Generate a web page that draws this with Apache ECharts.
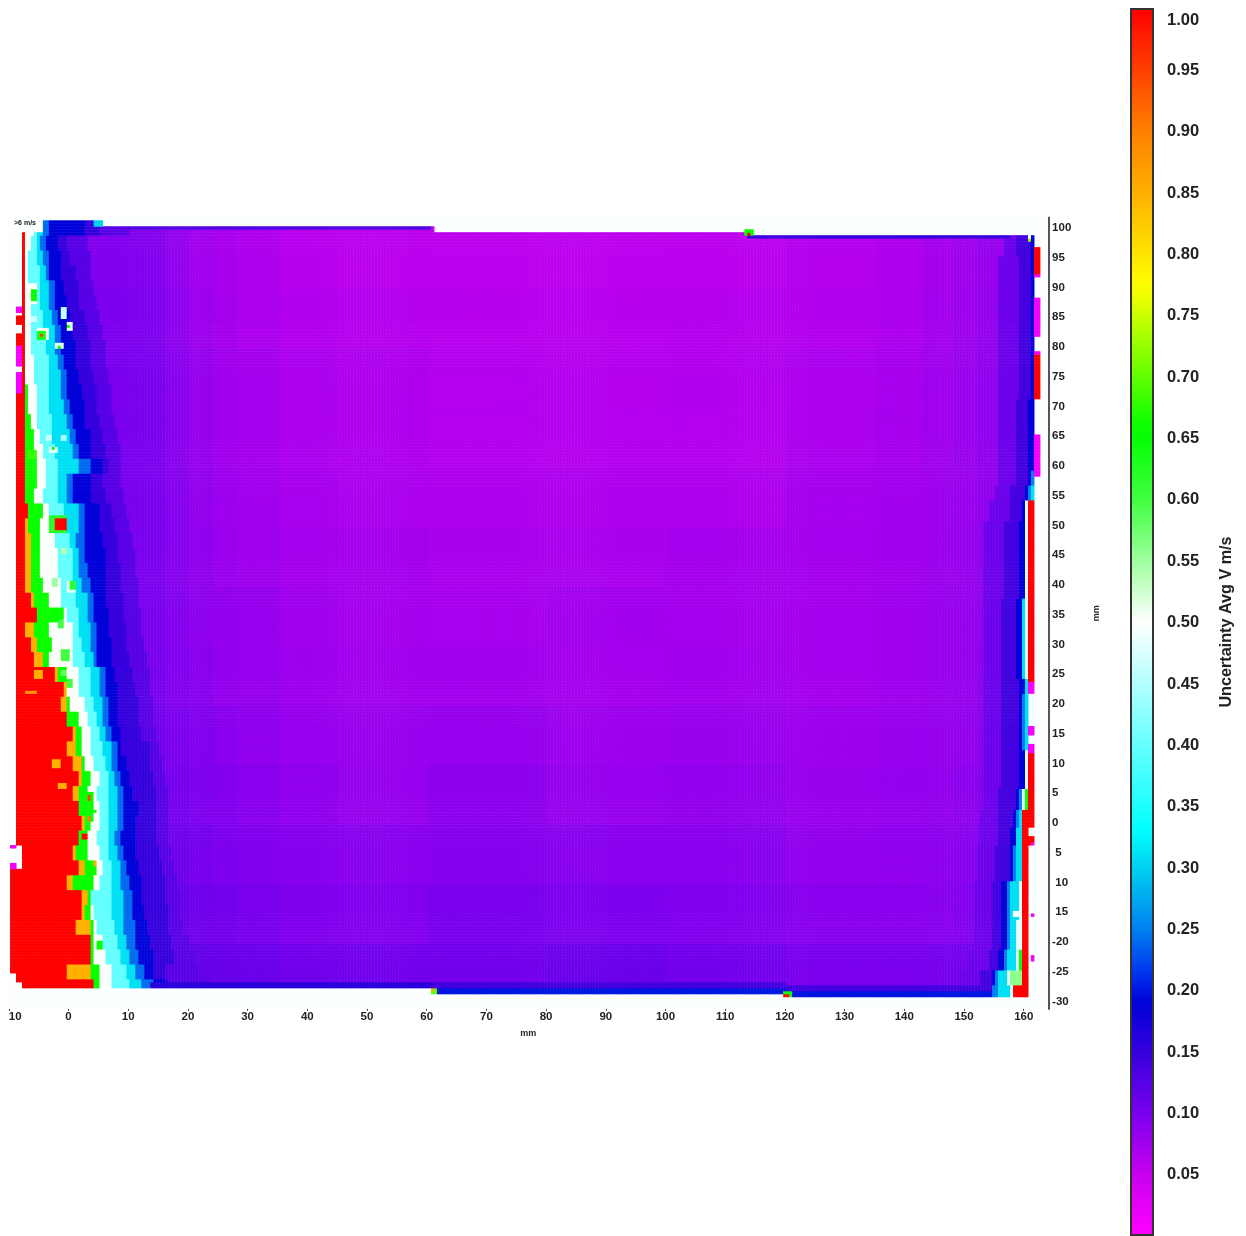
<!DOCTYPE html>
<html><head><meta charset="utf-8">
<style>html,body{margin:0;padding:0;background:#fff}#c{width:1246px;height:1236px}</style>
<script src="https://cdn.jsdelivr.net/npm/echarts@6/dist/echarts.min.js"></script>
</head><body><div id="c"></div>
<script>
// --- axis tick labels (as they read in the picture)
const xTicks = [-10,0,10,20,30,40,50,60,70,80,90,100,110,120,130,140,150,160];
const xTickLabels = ['10','0','10','20','30','40','50','60','70','80','90','100','110','120','130','140','150','160'];
const yTicks = [100,95,90,85,80,75,70,65,60,55,50,45,40,35,30,25,20,15,10,5,0,-5,-10,-15,-20,-25,-30];
const yTickLabels = ['100','95','90','85','80','75','70','65','60','55','50','45','40','35','30','25','20','15','10','5','0','\u00a05','\u00a010','\u00a015','-20','-25','-30'];
const barTicks = [0.05,0.10,0.15,0.20,0.25,0.30,0.35,0.40,0.45,0.50,0.55,0.60,0.65,0.70,0.75,0.80,0.85,0.90,0.95,1.00];
// --- colour scale
const stopValues = [0.001,0.05,0.10,0.15,0.19,0.22,0.25,0.30,0.33,0.40,0.50,0.60,0.655,0.775,0.85,0.90,0.95,1.00];
const stopColors = ['#ff00ff','#c800ee','#7a00ee','#3500dd','#0000d8','#0040f0','#0080f0','#00d0f0','#00ffff','#66ffff','#ffffff','#40ff40','#00ff00','#ffff00','#ffb000','#ff8000','#ff4000','#ff0000'];
// --- left edge: value of each band, and per row (y mm) the x (mm) where each band ends
const leftLevels = [1.0,0.85,0.66,0.5,0.4,0.31,0.24,0.19,0.15,0.125];
const rowY = [100,97.5,95,92.5,90,87.5,85,82.5,80,77.5,75,72.5,70,67.5,65,62.5,60,57.5,55,52.5,50,47.5,45,42.5,40,37.5,35,32.5,30,27.5,25,22.5,20,17.5,15,12.5,10,7.5,5,2.5,0,-2.5,-5,-7.5,-10,-12.5,-15,-17.5,-20,-22.5,-25,-27.5,-30];
const leftEnds = [
[-7,-7,-7,-5.9,-5.1,-4.3,-3.4,2.8,5.3,10.3],
[-7,-7,-7,-6.3,-5.3,-4.6,-3.9,-1.9,-0.3,3.1],
[-7,-7,-7,-6.6,-5.1,-4.3,-3.4,-1.4,0.3,3.6],
[-7,-7,-7,-6.6,-4.9,-3.8,-3.1,-1.1,1.1,3.9],
[-7,-7,-7,-6.6,-4.9,-3.4,-2.4,-0.6,1.6,4.4],
[-7,-7,-7,-6.4,-4.8,-3.1,-2.1,-0.3,1.9,4.8],
[-7,-7,-7,-6.1,-4.4,-2.8,-1.8,0.3,2.8,5.3],
[-7,-7,-7,-6.1,-4.1,-2.4,-1.4,0.8,3.3,5.8],
[-7,-7,-7,-6.1,-3.8,-2.1,-1.1,1.1,3.6,6.1],
[-7,-7,-7,-5.8,-3.4,-1.8,-0.8,1.4,3.9,6.4],
[-7,-7,-7,-5.8,-3.1,-1.4,-0.4,1.9,4.4,7],
[-7,-7,-6.8,-5.4,-3.1,-1.1,-0.1,2.3,4.8,7.3],
[-7,-7,-6.6,-5.4,-3.1,-0.8,0.3,2.6,4.9,7.5],
[-7,-7,-6.4,-5.3,-2.8,-0.4,0.6,2.8,5.3,7.8],
[-7,-7,-5.6,-4.8,-2.8,0.3,1.3,3.6,5.8,8.3],
[-7,-7,-5.9,-4.4,-2.4,0.9,1.6,3.9,6.1,8.6],
[-7,-7,-5.3,-3.6,-1.8,1.6,3.6,5.6,7,9],
[-7,-7,-5.3,-3.9,-1.8,-0.4,0.6,3.6,5.8,9],
[-7,-7,-5.9,-4.3,-1.8,-0.4,0.9,3.9,6.3,9.3],
[-6.8,-6.8,-4.4,-3.1,-0.6,1.9,2.9,5.3,7.5,9.8],
[-7,-6.8,-4.8,-2.8,-0.4,1.6,2.6,5.3,7.8,10.3],
[-7.3,-6.4,-4.8,-2.3,0.3,1.4,2.6,5.8,8.1,10.8],
[-7.3,-6.4,-4.8,-1.9,0.6,1.9,2.9,6.1,8.3,11.1],
[-7.3,-6.4,-4.8,-1.9,0.6,1.9,3.3,6.4,8.6,11.5],
[-7.1,-6.3,-4.4,-1.4,0.9,2.3,3.6,6.4,8.8,11.6],
[-6.4,-5.9,-3.1,-1.1,1.3,3.1,4.1,6.4,9.1,12],
[-5.3,-5.3,-0.9,-0.3,1.6,3.3,4.4,6.6,9.5,12.1],
[-7.3,-5.9,-3.1,0.6,1.9,3.6,4.6,7,9.8,12.5],
[-6.4,-5.4,-2.8,0.6,2.3,3.8,4.8,7.3,10,12.8],
[-5.9,-4.4,-3.1,0.8,2.6,4.1,4.9,7.5,10.3,13.1],
[-2.3,-1.8,-0.3,1.9,3.6,5.3,6.1,7.8,10.8,13.7],
[-0.6,-0.1,-0.1,1.9,3.9,5.3,6.3,8.1,11.5,14],
[-1.1,-0.4,0.3,2.6,4.4,5.6,6.6,8.1,11.6,14.3],
[-0.3,-0.3,1.9,3.1,4.8,5.8,7,8.1,12,14.5],
[0.8,1.1,2.3,3.6,5.3,6.4,7.3,8.6,12.5,14.8],
[-0.3,1.1,2.4,3.9,5.9,7.3,8.1,9,13.7,15.3],
[0.8,2.4,2.8,4.1,6.3,7.5,8.3,9.8,14,15.7],
[1.9,2.4,3.6,5.3,6.6,7.8,8.6,10.3,14.5,16.2],
[0.6,1.9,3.3,4.8,6.6,8.1,9.1,10.8,14.8,16.7],
[1.6,1.9,4.4,5.3,7,8.1,9.5,12,15,17],
[2.3,2.6,3.9,5.3,7,8.1,9.5,11.5,15,17],
[1.6,1.9,3.3,4.8,6.6,7.8,9,11.1,14.8,17],
[0.8,1.3,3.3,5.3,7,8.1,9.5,11.5,15.3,17.3],
[1.9,2.6,4.9,5.8,7.3,8.6,9.8,12,15.7,17.8],
[-0.1,0.6,4.4,5.3,7.3,9,10.3,12.3,16.2,18.2],
[2.3,3.3,3.6,3.9,7.3,9.1,10.6,12.5,16.5,18.7],
[2.4,2.8,3.6,4.4,7.5,9.1,10.8,12.8,16.7,19],
[1.4,3.6,4.1,4.9,7.8,9.5,11.1,13.1,17,19.5],
[3.6,3.6,4.1,5.8,8.1,9.8,11.5,13.7,17.3,20.4],
[3.6,3.6,4.1,6.4,8.6,10.3,12,14.2,17.8,21.2],
[-0.1,3.9,5.3,7.5,9.6,11.5,12.8,14.2,16.2,22],
[4.1,4.1,5.3,7.5,10.3,12.5,14.5,16.5,17,23.7],
[4.1,4.1,5.3,7.5,10.3,12.5,14.5,16.5,17,23.7]
];
// --- interior: coarse table of values
const innerX = [14,18,22,26,30,40,50,70,90,110,130,140,146,150,154];
const innerY = [95,85,75,65,55,45,35,25,15,5,-5,-15,-25];
const innerValues = [
[.095,.085,.075,.07,.066,.06,.058,.057,.057,.058,.062,.066,.072,.076,.082],
[.098,.088,.078,.072,.068,.064,.062,.06,.06,.062,.064,.068,.074,.078,.084],
[.1,.09,.082,.076,.072,.068,.066,.063,.062,.064,.067,.07,.076,.08,.086],
[.1,.09,.082,.076,.072,.068,.066,.063,.063,.063,.068,.071,.076,.08,.086],
[.1,.092,.084,.078,.074,.07,.068,.066,.066,.066,.071,.074,.078,.081,.086],
[.1,.092,.086,.08,.076,.072,.072,.069,.069,.072,.072,.075,.079,.082,.087],
[.1,.094,.088,.084,.082,.076,.072,.07,.074,.072,.072,.076,.08,.083,.087],
[.101,.095,.09,.085,.082,.078,.075,.075,.072,.075,.072,.076,.08,.083,.088],
[.105,.1,.095,.09,.086,.082,.08,.082,.078,.08,.078,.08,.082,.085,.09],
[.108,.103,.098,.094,.09,.086,.082,.088,.082,.085,.08,.083,.085,.088,.093],
[.113,.108,.103,.098,.095,.092,.09,.092,.09,.09,.085,.086,.088,.091,.096],
[.118,.113,.108,.104,.1,.096,.095,.1,.098,.095,.09,.09,.091,.094,.098],
[.126,.121,.116,.112,.11,.106,.105,.105,.11,.105,.1,.1,.102,.104,.108]
];
// --- right edge: band values, and per y group the x where each band starts, last = end of data
const rightLevels = [0.11,0.14,0.19,0.25,0.31,0.48,0.66,1.0];
const rightTop = [101,95,71,59.3,56.8,54.3,50.9,37.5,24,21.5,12.3,5.5,2.2,-0.8,-2.5,-3.7,-9.6,-16.3,-21.3,-24.7,-27.2];
const rightStarts = [
[156.9,159,161.1,161.9,161.9,161.9,161.9,161.9,161.9],
[156,159.4,161.1,161.9,161.9,161.9,161.9,161.9,161.9],
[156,159,160.9,161.7,161.9,161.9,161.9,161.9,161.9],
[156,158.9,160.6,161.2,161.6,161.9,161.9,161.9,161.9],
[155.2,158,160.1,160.6,161.1,161.6,161.9,161.9,161.9],
[154.4,157.7,159.7,160.1,160.2,160.4,160.6,160.9,161.9],
[153.5,156.9,159.4,160.1,160.2,160.4,160.6,160.6,161.9],
[153.5,156.5,159,159.7,159.9,160.1,160.6,160.6,161.9],
[153.5,156.5,159.4,160.1,160.2,160.6,160.6,160.6,161.9],
[153.5,156.5,159.4,159.9,160.2,160.9,160.9,160.9,160.9],
[153.5,156.5,159.4,160.1,160.2,160.4,160.6,160.6,161.9],
[153.5,156,158.7,159.4,159.7,159.9,160.2,160.6,161.9],
[152.7,155.7,158.2,159,159.4,159.6,159.9,159.9,161.9],
[152.7,155.7,158,158.7,159,159.6,159.9,159.9,160.9],
[152.7,155.7,158,158.7,159,159.6,159.9,159.9,161.9],
[152.3,155.2,157.7,158.2,158.6,159.6,159.9,159.9,160.9],
[151.8,154.9,156.5,157.2,157.7,159.4,159.9,159.9,160.9],
[151.8,154.9,156.5,157.2,158,158.9,159.9,159.9,160.9],
[151,154.4,156,156.7,157.2,158.6,159.4,159.9,160.9],
[149.3,153,154.9,155.5,156,157.4,158,159.9,160.9],
[147.7,151,153.9,154.9,155.7,157.7,158.2,158.2,160.9]
];
// --- outline of the measured area: [x limit, y limit]
const topEdge = [[-4.3,99.2],[5.6,101.2],[61.5,100.3],[114,99.4],[170,98.7]];
const bottomEdge = [[61,-27.8],[120.5,-28.6],[170,-29.3]];
// --- isolated spots and blocks: [x0, x1, yTop, yBottom, value]; later ones win
const spots = [
[-8.8,-7.8,72.3,-3.9,1],[-9.6,-7.8,-7.7,-25.2,1],[-8.8,-7.8,-25.2,-26.9,1],
[-8.8,-7.8,86.7,85.7,.01],[-8.8,-7.8,85,83.7,1],[-8.8,-7.8,82.2,80.3,1],[-8.8,-7.8,80.3,76.6,.01],[-8.8,-7.8,75.6,72.3,.01],
[-9.6,-8.8,-3.9,-4.5,.01],[-9.6,-8.8,-7,-7.7,.01],
[10,61,100.3,99.9,.13],[61,114,99.4,99,.1],[114,158,98.7,98.3,.15],
[13.7,61,-26.9,-27.8,.16],[61,120.5,-27,-27.8,.14],[61,120.5,-27.8,-28.6,.2],[120.5,155,-27.5,-28.4,.14],[120.5,155,-28.4,-29.3,.2],
[4.4,5.6,101.2,100.4,.3],
[-6.6,-5.1,90.6,87.2,.5],[-6.3,-5.4,89.9,87.7,.66],
[-1.3,-0.3,86.9,84.5,.46],
[-0.4,0.8,84,82.9,.48],[-0.1,0.4,83.7,83.2,.66],
[-5.3,-3.4,83,81,.5],[-5.1,-3.6,82.9,81.2,.64],[-4.6,-4.1,82.4,81.7,.95],
[-2.3,-0.9,80.8,79.5,.48],[-1.8,-1.4,80.4,79.8,.66],
[-6.1,-5.3,85.2,84.2,.47],
[-3.6,-2.6,65.4,64.2,.47],[-1.1,-0.3,65.4,64.2,.44],
[-3.1,-1.9,63.4,62.4,.48],[-2.8,-2.3,63,62.7,.66],
[-6.8,-5.4,62.5,61.3,.68],
[-3.4,-0.1,51.8,48.6,.62],[-2.3,-0.3,51.3,49.2,1],
[-1.3,-0.3,46.2,45,.54],
[-0.3,1.4,40.8,38.8,.48],[0.1,1.1,40.5,39.2,.62],
[-2.8,-1.9,41.2,39.7,.55],[-1.9,-0.9,34.1,32.9,.6],
[-1.4,0.3,29.1,27.4,.6],[-1.4,-0.3,25.7,24.5,.58],[-0.3,0.9,24,22.9,.6],
[-5.9,-4.4,25.7,24,.85],[-7,-5.4,22.4,21.5,.88],
[-2.6,-1.4,10.9,9.4,.85],[-1.9,-0.3,6.7,5.5,.85],
[2.8,4.1,5,3.5,.66],[3.1,3.9,4.7,3.9,.95],
[3.1,4.1,1.3,0.2,.66],[3.3,3.8,1.2,.3,.9],
[3.9,4.8,2.2,1.5,.66],[2.3,3.3,-2,-2.9,1],
[3.9,4.8,-6.2,-7.4,.66],[4.1,4.6,-6.5,-7.1,.85],
[4.8,5.8,-20,-21.3,.66],[5.1,5.4,-20.3,-21,.8],
[113.3,114.7,99.6,98.6,.66],[113.7,114.2,99.4,98.8,1],
[60.7,61.7,-27.8,-28.6,.7],[61,61.4,-28,-28.5,.85],
[119.6,121.2,-28.5,-29.4,.66],[120,120.7,-28.7,-29.3,1],
[160.8,161.5,98.5,97.5,.5],[160.9,161.3,98.3,97.8,.72],
[158.5,159.2,-14.7,-15.9,.5],[158.7,159,-15,-15.6,.66],
[157.7,159.9,-24.7,-27.2,.56],
[161.6,162.6,96.8,92.1,1],[161.9,162.6,92.1,91.8,.01],
[161.9,162.6,88.2,81.5,.01],
[161.6,162.6,78.5,71.4,1],[161.9,162.6,71.4,71,.01],[161.9,162.6,79,78.5,.01],
[161.9,162.6,65.2,58.3,.01],
[160.6,161.9,23.5,21.5,.01],[160.6,161.9,16,14.5,.01],[160.6,161.9,13.3,11.9,.01],
[161.2,161.9,-15.1,-15.8,.01],[161.1,161.9,-22.5,-23.5,.01],[161.2,161.7,-3.4,-3.9,.01],
[158.2,160.9,-27.7,-29.3,1]
];

const nearest = (arr, v) => { let b = 0, d = 1e9; arr.forEach((a, i) => { const e = Math.abs(a - v); if (e < d) { d = e; b = i; } }); return b; };
function cellValue(x, y) {
  for (let i = spots.length - 1; i >= 0; i--) {
    const s = spots[i];
    if (x >= s[0] && x < s[1] && y <= s[2] && y > s[3]) return s[4];
  }
  if (x < -7.8) return null;
  if (y > topEdge.find(e => x < e[0])[1]) return null;
  if (y < bottomEdge.find(e => x < e[0])[1]) return null;
  let g = 0;
  while (g + 1 < rightTop.length && y <= rightTop[g + 1]) g++;
  const rs = rightStarts[g];
  if (x >= rs[8]) return null;
  for (let k = 7; k >= 0; k--) if (x >= rs[k]) return rightLevels[k];
  const ends = leftEnds[nearest(rowY, y)];
  for (let k = 0; k < ends.length; k++) if (x < ends[k]) return leftLevels[k];
  return innerValues[nearest(innerY, y)][nearest(innerX, x)];
}
const xCats = [], yCats = [];
for (let k = 0; k <= 348; k++) xCats.push(-10 + k * 0.5);
for (let k = 0; k <= 265; k++) yCats.push(-31 + k * 0.5);
const cells = [];
xCats.forEach((x, i) => yCats.forEach((y, j) => { const v = cellValue(x, y); if (v !== null) cells.push([i, j, v]); }));

const hex = h => [1, 3, 5].map(i => parseInt(h.substr(i, 2), 16));
const scaleColor = v => {
  let i = 0; while (i < stopValues.length - 2 && v > stopValues[i + 1]) i++;
  const t = (v - stopValues[i]) / (stopValues[i + 1] - stopValues[i]);
  const a = hex(stopColors[i]), b = hex(stopColors[i + 1]);
  return 'rgb(' + a.map((c, n) => Math.round(c + (b[n] - c) * t)).join(',') + ')';
};
const colorList = [];
for (let i = 0; i <= 250; i++) colorList.push(scaleColor(0.001 + 0.999 * i / 250));

const txt = '#222';
const chart = echarts.init(document.getElementById('c'), null, { renderer: 'canvas' });
chart.setOption({
  animation: false,
  backgroundColor: '#fff',
  grid: [
    { left: 7.3, top: 217.6, width: 1041.8, height: 791.3, show: true, backgroundColor: '#fcffff', borderWidth: 0 },
    { left: 1131, top: 9, width: 22, height: 1226, show: true, backgroundColor: 'transparent', borderColor: '#333', borderWidth: 2, z: 10 }
  ],
  xAxis: [
    { type: 'category', gridIndex: 0, data: xCats, name: 'mm', nameLocation: 'middle', nameGap: 20,
      nameTextStyle: { fontFamily: 'Liberation Sans', fontWeight: 'bold', fontSize: 9, color: txt },
      axisLine: { show: false }, splitLine: { show: false },
      axisTick: { show: true, length: 2, alignWithLabel: true, interval: (i, v) => xTicks.includes(+v), lineStyle: { color: '#444' } },
      axisLabel: { interval: (i, v) => xTicks.includes(+v), margin: 2, alignMinLabel: 'left', fontFamily: 'Liberation Sans', fontWeight: 'bold', fontSize: 11.5, color: txt,
        formatter: v => xTickLabels[xTicks.indexOf(+v)] } },
    { type: 'value', gridIndex: 1, show: false, min: 0, max: 1 }
  ],
  yAxis: [
    { type: 'category', gridIndex: 0, position: 'right', data: yCats, name: 'mm', nameLocation: 'middle', nameGap: 43, nameRotate: 90,
      nameTextStyle: { fontFamily: 'Liberation Sans', fontWeight: 'bold', fontSize: 9, color: txt },
      axisLine: { show: true, lineStyle: { color: '#555', width: 2 } }, axisTick: { show: false }, splitLine: { show: false },
      axisLabel: { interval: (i, v) => yTicks.includes(+v), margin: 3, fontFamily: 'Liberation Sans', fontWeight: 'bold', fontSize: 11.5, color: txt,
        formatter: v => yTickLabels[yTicks.indexOf(+v)] } },
    { type: 'value', gridIndex: 1, position: 'right', min: 0.001, max: 1, splitLine: { show: false }, axisLine: { show: false },
      name: 'Uncertainty Avg V m/s', nameLocation: 'middle', nameGap: 66, nameRotate: 90,
      nameTextStyle: { fontFamily: 'Liberation Sans', fontWeight: 'bold', fontSize: 16.2, color: '#222' },
      axisTick: { show: true, length: 3, customValues: barTicks.slice(0, -1), lineStyle: { color: '#333', width: 1.5 } },
      axisLabel: { customValues: barTicks, margin: 14, padding: [3, 0, 0, 0], verticalAlignMaxLabel: 'top', showMinLabel: true, showMaxLabel: true,
        fontFamily: 'Liberation Sans', fontWeight: 'bold', fontSize: 16.5, color: '#222', formatter: v => Number(v).toFixed(2) } }
  ],
  visualMap: {
    type: 'continuous', seriesIndex: 0, min: 0.001, max: 1, left: 1131, top: 9, itemWidth: 22, itemHeight: 1226, padding: 0,
    calculable: false, hoverLink: false, text: null, showLabel: false, inRange: { color: colorList }, outOfRange: { color: '#fff' }
  },
  graphic: [{ type: 'text', left: 14, top: 220, silent: true, style: { text: '>6 m/s', fill: '#222', font: 'bold 7px "Liberation Sans"' } }],
  series: [{ type: 'heatmap', xAxisIndex: 0, yAxisIndex: 0, data: cells, progressive: 0, silent: true, emphasis: { disabled: true } }]
});
</script></body></html>
